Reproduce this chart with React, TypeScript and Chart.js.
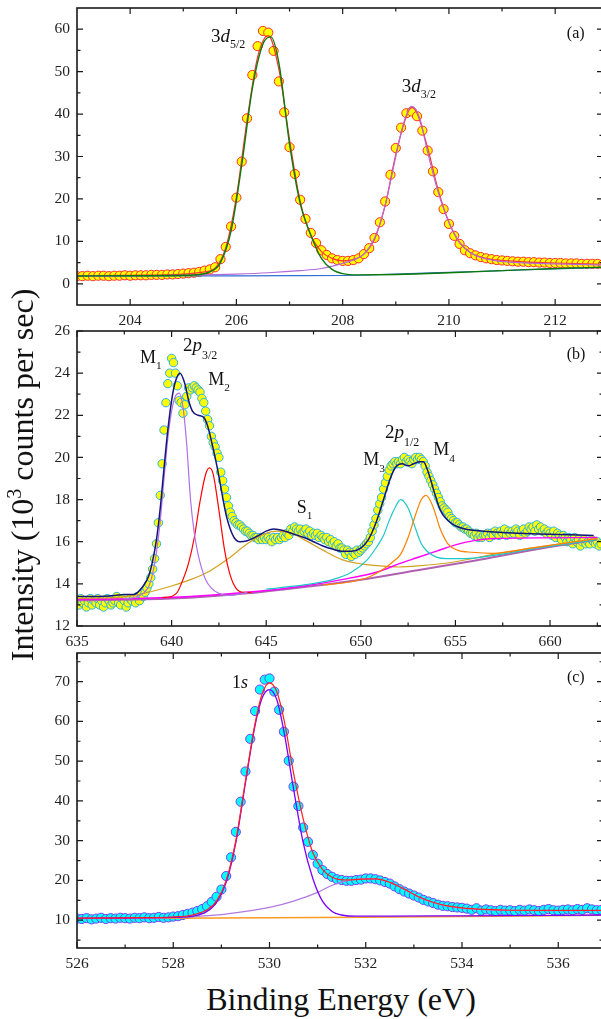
import React, { useEffect, useRef } from "react";
import { Chart, registerables } from "chart.js";
Chart.register(...registerables);

const FONT = '"Liberation Serif", "Times New Roman", Times, serif';
Chart.defaults.font.family = FONT;

// ---------- Panel (a) : 3d ----------
const aStart = 203.0;
const aStep = 0.1;
const aData = [
  1.8, 1.8, 1.9, 1.8, 1.9, 1.9, 1.8, 1.9, 1.9, 2.0,
  1.9, 2.0, 2.0, 2.0, 2.1, 2.1, 2.1, 2.2, 2.2, 2.3,
  2.4, 2.5, 2.6, 2.8, 3.1, 3.4, 3.9, 5.8, 8.7, 13.5,
  20.3, 28.8, 39.0, 49.2, 56.0, 59.6, 59.2, 54.9, 47.7, 40.4,
  32.2, 25.9, 19.8, 15.3, 12.0, 9.6, 7.9, 6.8, 6.0, 5.6,
  5.4, 5.4, 5.6, 6.0, 7.0, 8.4, 10.8, 14.5, 19.4, 25.7,
  32.0, 36.8, 40.2, 40.6, 39.5, 36.1, 31.4, 26.5, 21.6, 17.6,
  14.1, 11.3, 9.4, 7.9, 7.2, 6.7, 6.3, 6.0, 5.8, 5.6,
  5.5, 5.4, 5.3, 5.2, 5.2, 5.1, 5.1, 5.0, 5.0, 4.9,
  4.9, 4.9, 4.8, 4.8, 4.8, 4.7, 4.7, 4.7, 4.7, 4.6,
];
const aBlueX = [203, 205, 207, 208, 209, 210, 211, 212, 212.9];
const aBlueY = [1.8, 1.85, 1.9, 1.95, 2.3, 2.7, 3.1, 3.5, 3.85];
const aEnvX = [203, 204, 205, 205.4, 205.6, 205.8, 206.0, 206.2, 206.4, 206.6, 206.8, 207.0, 207.2, 207.4, 207.6, 207.8, 208.0, 208.2, 208.4, 208.6, 208.8, 209.0, 209.2, 209.3, 209.4, 209.6, 209.8, 210.0, 210.2, 210.4, 210.7, 211, 211.5, 212, 212.9];
const aEnvY = [1.9, 2.0, 2.3, 2.8, 3.7, 8.5, 20.5, 38.5, 53.5, 58.5, 50.5, 34.0, 19.5, 11.5, 7.6, 6.0, 5.4, 5.7, 7.0, 10.5, 18.5, 30.5, 39.5, 41.5, 40.2, 32.0, 22.0, 14.5, 9.7, 7.4, 6.0, 5.5, 5.1, 4.9, 4.6];
const aGreenX = [203, 204, 205, 205.3, 205.5, 205.7, 205.9, 206.1, 206.3, 206.5, 206.65, 206.8, 207.0, 207.2, 207.4, 207.6, 207.8, 208.0, 208.3, 209, 210, 211, 212, 212.9];
const aGreenY = [1.85, 1.9, 2.0, 2.2, 2.8, 5.0, 12.5, 28.0, 46.0, 56.5, 58.2, 52.0, 33.0, 19.0, 11.5, 6.0, 3.4, 2.4, 2.1, 2.2, 2.6, 3.1, 3.6, 3.9];
const aPurpleX = [203, 205, 206, 206.6, 207.2, 207.6, 208.0, 208.2, 208.4, 208.6, 208.8, 209.0, 209.15, 209.3, 209.45, 209.6, 209.8, 210.0, 210.2, 210.4, 210.6, 210.9, 211.3, 212, 212.9];
const aPurpleY = [1.85, 2.0, 2.3, 2.6, 3.1, 3.6, 4.8, 5.6, 7.0, 10.8, 18.5, 30.0, 38.0, 41.8, 39.0, 31.0, 21.5, 14.5, 9.8, 7.4, 6.2, 5.4, 5.0, 4.7, 4.4];
const aXLabels = [204, 206, 208, 210, 212];
const aXMinor = [205, 207, 209, 211];
const aYLabels = [0, 10, 20, 30, 40, 50, 60];
const aYMinor = [5, 15, 25, 35, 45, 55];

// ---------- Panel (b) : 2p ----------
const bStart = 635.0;
const bStep = 0.1;
const bData = [
  13.2, 13.0, 13.3, 13.1, 13.2, 12.9, 13.1, 13.3, 13.0, 13.2,
  13.1, 13.3, 13.0, 13.2, 12.9, 13.1, 13.3, 13.2, 13.0, 13.1,
  13.2, 13.4, 13.1, 13.0, 13.3, 13.2, 12.9, 13.1, 13.3, 13.2,
  13.3, 13.1, 13.4, 13.2, 13.5, 13.4, 13.6, 13.8, 14.0, 14.3,
  14.7, 15.2, 15.9, 16.9, 18.2, 19.7, 21.3, 22.6, 23.5, 24.0,
  24.7, 24.5, 24.0, 23.4, 22.7, 22.6, 22.1, 22.5, 22.9, 23.3,
  23.2, 23.3, 23.4, 23.3, 23.2, 23.1, 22.8, 22.6, 22.2, 21.8,
  21.5, 21.0, 20.7, 20.5, 20.2, 20.0, 19.3, 18.9, 18.5, 18.1,
  17.7, 17.4, 17.2, 17.0, 16.9, 16.8, 16.8, 16.7, 16.6, 16.5,
  16.5, 16.4, 16.3, 16.3, 16.2, 16.2, 16.1, 16.2, 16.1, 16.2,
  16.1, 16.2, 16.1, 16.0, 16.2, 16.1, 16.2, 16.1, 16.2, 16.3,
  16.2, 16.4, 16.3, 16.6, 16.5, 16.7, 16.6, 16.5, 16.6, 16.4,
  16.5, 16.6, 16.4, 16.5, 16.3, 16.4, 16.3, 16.4, 16.2, 16.3,
  16.2, 16.1, 16.2, 16.0, 16.1, 15.9, 16.0, 15.8, 15.9, 15.7,
  15.7, 15.6, 15.4, 15.6, 15.5, 15.3, 15.5, 15.4, 15.6, 15.5,
  15.6, 15.7, 15.8, 15.9, 16.0, 16.2, 16.5, 16.8, 17.1, 17.5,
  17.8, 18.1, 18.5, 18.8, 19.1, 19.4, 19.6, 19.7, 19.8, 19.7,
  19.8, 19.7, 19.9, 20.0, 19.8, 19.9, 19.8, 19.7, 19.9, 20.0,
  19.9, 20.0, 19.9, 19.8, 19.6, 19.3, 19.1, 18.9, 18.7, 18.5,
  18.3, 18.1, 17.9, 17.7, 17.6, 17.5, 17.4, 17.2, 17.1, 17.0,
  16.9, 16.9, 16.8, 16.7, 16.7, 16.6, 16.6, 16.5, 16.4, 16.4,
  16.3, 16.4, 16.2, 16.3, 16.2, 16.3, 16.3, 16.4, 16.2, 16.4,
  16.3, 16.5, 16.4, 16.3, 16.5, 16.4, 16.6, 16.3, 16.5, 16.4,
  16.5, 16.4, 16.6, 16.5, 16.3, 16.5, 16.6, 16.4, 16.5, 16.7,
  16.6, 16.7, 16.5, 16.8, 16.6, 16.7, 16.5, 16.6, 16.4, 16.5,
  16.4, 16.3, 16.5, 16.2, 16.4, 16.3, 16.1, 16.3, 16.2, 16.0,
  16.2, 16.1, 15.9, 16.2, 16.0, 16.1, 15.8, 16.0, 16.1, 15.9,
  16.0, 15.9, 16.1, 16.0, 15.9, 16.0, 15.8, 15.9,
];
const bNavyX = [635, 636, 637, 637.5, 638, 638.5, 638.8, 639.0, 639.2, 639.4, 639.6, 639.8, 640.0, 640.2, 640.45, 640.7, 640.9, 641.1, 641.4, 641.7, 641.9, 642.1, 642.3, 642.5, 642.7, 642.9, 643.1, 643.3, 643.6, 644.0, 644.5, 645.0, 645.4, 646.0, 646.5, 647.0, 647.5, 648.0, 648.5, 649.0, 649.5, 650.0, 650.4, 650.8, 651.2, 651.6, 651.9, 652.2, 652.5, 652.8, 653.1, 653.3, 653.6, 653.9, 654.2, 654.5, 654.9, 655.5, 656.5, 658.4, 660, 662.3];
const bNavyY = [13.4, 13.4, 13.45, 13.5, 13.5, 13.9, 14.4, 15.1, 16.1, 17.6, 19.5, 21.3, 22.7, 23.6, 24.0, 23.5, 22.7, 22.2, 22.0, 21.9, 21.5, 20.8, 20.0, 19.1, 18.1, 17.2, 16.6, 16.2, 16.0, 16.05, 16.25, 16.5, 16.6, 16.5, 16.35, 16.2, 16.0, 15.8, 15.65, 15.55, 15.55, 15.7, 16.1, 16.9, 18.0, 19.1, 19.6, 19.7, 19.6, 19.7, 19.8, 19.8, 19.2, 18.3, 17.5, 17.1, 16.8, 16.6, 16.5, 16.4, 16.35, 16.3];
const bMagX = [635, 638, 641, 644, 647, 649, 651, 652, 653, 654, 655, 656, 657, 662.5];
const bMagY = [13.25, 13.3, 13.4, 13.6, 13.9, 14.2, 14.6, 14.95, 15.25, 15.55, 15.85, 16.05, 16.15, 16.2];
const bLinX = [635, 640, 644, 647, 650, 653, 656, 659, 662.5];
const bLinY = [13.22, 13.3, 13.55, 13.85, 14.2, 14.65, 15.1, 15.6, 16.1];
const bGoldX = [635, 637, 638, 639, 640, 641, 642, 643, 644, 645, 645.6, 646.3, 647, 648, 649, 650, 651, 652, 653, 655, 657, 659, 662.5];
const bGoldY = [13.3, 13.35, 13.45, 13.65, 13.9, 14.2, 14.6, 15.2, 15.9, 16.4, 16.5, 16.4, 16.1, 15.6, 15.15, 14.95, 14.85, 14.8, 14.85, 15.05, 15.4, 15.7, 16.15];
const bM1X = [637.5, 638, 638.5, 638.8, 639.0, 639.2, 639.4, 639.6, 639.8, 640.0, 640.2, 640.4, 640.6, 640.8, 641.0, 641.2, 641.4, 641.6, 641.8, 642.1, 642.5, 643, 644];
const bM1Y = [13.3, 13.35, 13.55, 13.9, 14.5, 15.5, 17.0, 19.0, 20.9, 22.2, 22.9, 23.05, 22.4, 20.6, 18.0, 16.4, 15.4, 14.7, 14.2, 13.8, 13.55, 13.45, 13.6];
const bM2X = [639.5, 640.0, 640.3, 640.6, 640.9, 641.2, 641.5, 641.8, 642.0, 642.2, 642.5, 642.8, 643.1, 643.4, 643.8, 644.2];
const bM2Y = [13.35, 13.4, 13.6, 14.2, 15.0, 16.2, 17.9, 19.2, 19.5, 19.2, 17.5, 15.6, 14.4, 13.8, 13.6, 13.6];
const bM3X = [645, 647, 648.5, 649.5, 650.3, 650.8, 651.2, 651.5, 651.8, 652.1, 652.5, 652.9, 653.2, 653.5, 654.0, 654.5, 655.5, 657, 659, 662.5];
const bM3Y = [13.75, 13.95, 14.2, 14.55, 15.1, 15.7, 16.3, 17.0, 17.6, 18.0, 17.6, 16.6, 15.9, 15.55, 15.27, 15.2, 15.2, 15.35, 15.65, 16.1];
const bM4X = [648, 649.5, 650.5, 651.2, 651.7, 652.1, 652.5, 652.9, 653.2, 653.45, 653.8, 654.2, 654.6, 655.1, 655.9, 657, 659, 662.5];
const bM4Y = [13.95, 14.1, 14.35, 14.7, 15.05, 15.4, 16.2, 17.3, 18.0, 18.2, 17.7, 16.6, 15.9, 15.6, 15.5, 15.45, 15.7, 16.15];
const bXLabels = [635, 640, 645, 650, 655, 660];
const bXMinor = [637.5, 642.5, 647.5, 652.5, 657.5, 662.5];
const bYLabels = [12, 14, 16, 18, 20, 22, 24, 26];
const bYMinor = [13, 15, 17, 19, 21, 23, 25];

// ---------- Panel (c) : 1s ----------
const cStart = 526.0;
const cStep = 0.1;
const cData = [
  10.4, 10.3, 10.5, 10.2, 10.4, 10.6, 10.3, 10.5, 10.4, 10.6,
  10.5, 10.4, 10.6, 10.5, 10.7, 10.5, 10.6, 10.8, 10.6, 10.7,
  10.9, 11.0, 11.3, 11.6, 11.9, 12.3, 12.8, 13.5, 14.6, 15.9,
  17.7, 21.1, 25.8, 32.2, 39.8, 47.4, 55.6, 62.6, 68.0, 70.5,
  70.8, 67.5, 62.9, 57.4, 50.1, 43.6, 38.7, 33.3, 29.7, 26.4,
  24.2, 22.6, 21.6, 20.9, 20.3, 20.1, 19.9, 19.9, 20.1, 20.2,
  20.5, 20.5, 20.3, 20.0, 19.6, 19.2, 18.5, 17.8, 17.2, 16.7,
  16.2, 15.7, 15.1, 14.7, 14.3, 13.9, 13.6, 13.5, 13.3, 13.2,
  13.1, 12.9, 12.6, 13.0, 12.4, 12.7, 12.5, 12.3, 12.6, 12.4,
  12.5, 12.3, 12.6, 12.4, 12.7, 12.5, 12.3, 12.6, 12.8, 12.5,
  12.4, 12.6, 12.7, 12.5, 12.8, 12.6, 13.0, 12.7, 12.5, 12.6,
];
const cOrangeX = [526, 529, 532, 536.93];
const cOrangeY = [10.45, 10.55, 10.75, 11.2];
const cVioX = [526, 527, 528, 528.4, 528.7, 528.9, 529.1, 529.3, 529.5, 529.7, 529.85, 530.0, 530.15, 530.3, 530.5, 530.7, 530.9, 531.1, 531.3, 531.5, 531.8, 532.5, 534, 536.93];
const cVioY = [10.5, 10.55, 10.7, 11.0, 12.2, 14.5, 19.5, 29.5, 44.5, 59.0, 66.0, 68.0, 65.5, 57.5, 43.0, 29.5, 20.5, 14.8, 12.2, 11.3, 11.0, 11.0, 11.1, 11.3];
const cLavX = [526, 527, 528, 529, 529.5, 530, 530.5, 531, 531.3, 531.6, 531.9, 532.2, 532.5, 532.8, 533.1, 533.4, 533.7, 534, 534.5, 535, 536, 536.93];
const cLavY = [10.4, 10.5, 10.7, 11.4, 12.2, 13.2, 14.8, 17.0, 18.8, 19.9, 20.4, 20.4, 19.5, 17.8, 15.8, 14.4, 13.5, 13.0, 12.6, 12.45, 12.4, 12.4];
const cRedX = [526, 527, 528, 528.4, 528.7, 528.9, 529.1, 529.3, 529.5, 529.7, 529.85, 530.0, 530.15, 530.3, 530.5, 530.7, 530.9, 531.1, 531.3, 531.6, 531.9, 532.2, 532.5, 532.8, 533.1, 533.4, 533.7, 534, 534.5, 535, 536, 536.93];
const cRedY = [10.5, 10.6, 10.8, 11.3, 12.6, 14.8, 20.0, 30.0, 45.0, 59.5, 67.0, 69.7, 67.5, 60.5, 47.0, 35.5, 27.0, 22.8, 20.8, 20.1, 20.3, 20.4, 19.5, 17.8, 15.9, 14.5, 13.6, 13.1, 12.7, 12.5, 12.45, 12.45];
const cXLabels = [526, 528, 530, 532, 534, 536];
const cXMinor = [527, 529, 531, 533, 535];
const cYLabels = [10, 20, 30, 40, 50, 60, 70];
const cYMinor = [5, 15, 25, 35, 45, 55, 65, 75];

// ---------- helpers ----------
type Part = { t: string; it?: boolean; sub?: boolean; dy?: number };
type Note = { x: number; y: number; size: number; parts: Part[] };

const grid = (start: number, step: number, n: number) =>
  Array.from({ length: n }, (_, i) => Math.round((start + i * step) * 100) / 100);
const pts = (xs: number[], ys: number[]) => xs.map((x, i) => ({ x, y: ys[i] }));

function lineDs(xs: number[], ys: number[], color: string, width: number, order: number) {
  return {
    data: pts(xs, ys),
    borderColor: color,
    borderWidth: width,
    pointRadius: 0,
    fill: false,
    cubicInterpolationMode: "monotone",
    order,
  };
}
function scatterDs(xs: number[], ys: number[], fill: string, border: string, r: number) {
  return {
    data: pts(xs, ys),
    showLine: false,
    pointRadius: r,
    pointBackgroundColor: fill,
    pointBorderColor: border,
    pointBorderWidth: 1,
    order: 50,
  };
}

type PanelCfg = {
  xMin: number; xMax: number; yMin: number; yMax: number;
  xLabels: number[]; xMinor: number[]; yLabels: number[]; yMinor: number[];
  datasets: any[]; notes: Note[]; padTop: number; axisH: number;
};

function buildConfig(p: PanelCfg): any {
  const frame = {
    id: "frame",
    afterDraw(chart: any) {
      const { ctx, chartArea } = chart;
      const { left, right, top, bottom } = chartArea;
      const xs = chart.scales.x, ys = chart.scales.y;
      ctx.save();
      ctx.strokeStyle = "#1a1a1a";
      ctx.lineWidth = 1.2;
      ctx.beginPath();
      const xt = (v: number, L: number) => {
        const px = xs.getPixelForValue(v);
        ctx.moveTo(px, bottom); ctx.lineTo(px, bottom - L);
        ctx.moveTo(px, top); ctx.lineTo(px, top + L);
      };
      const yt = (v: number, L: number) => {
        const py = ys.getPixelForValue(v);
        ctx.moveTo(left, py); ctx.lineTo(left + L, py);
        ctx.moveTo(right, py); ctx.lineTo(right - L, py);
      };
      p.xLabels.forEach((v) => xt(v, 6));
      p.xMinor.forEach((v) => xt(v, 3.5));
      p.yLabels.forEach((v) => yt(v, 6));
      p.yMinor.forEach((v) => yt(v, 3.5));
      ctx.stroke();
      ctx.lineWidth = 1.6;
      ctx.strokeRect(left, top, right - left, bottom - top);
      // notes
      ctx.fillStyle = "#111";
      ctx.textBaseline = "alphabetic";
      ctx.textAlign = "left";
      for (const n of p.notes) {
        let x = xs.getPixelForValue(n.x);
        const y = ys.getPixelForValue(n.y);
        for (const part of n.parts) {
          const size = part.sub ? n.size * 0.63 : n.size;
          ctx.font = `${part.it ? "italic " : ""}${size}px ${FONT}`;
          const dy = part.sub ? (part.dy ?? n.size * 0.32) : 0;
          ctx.fillText(part.t, x, y + dy);
          x += ctx.measureText(part.t).width;
        }
      }
      ctx.restore();
    },
  };
  const tickFont = { family: FONT, size: 15.5 };
  const zeroPad = (s: any) => { s.paddingTop = 0; s.paddingBottom = 0; s.paddingLeft = 0; s.paddingRight = 0; };
  return {
    type: "line",
    data: { datasets: p.datasets },
    plugins: [frame],
    options: {
      animation: false,
      responsive: true,
      maintainAspectRatio: false,
      events: [],
      layout: { padding: { top: p.padTop, right: 7, left: 0, bottom: 0 }, autoPadding: false },
      plugins: { legend: { display: false }, tooltip: { enabled: false } },
      scales: {
        x: {
          type: "linear", min: p.xMin, max: p.xMax,
          grid: { display: false, drawTicks: false },
          border: { display: false },
          ticks: { padding: 7, font: tickFont, color: "#222", autoSkip: false, maxRotation: 0, callback: (v: any) => String(v) },
          afterBuildTicks: (s: any) => { s.ticks = p.xLabels.map((v) => ({ value: v })); },
          afterFit: (s: any) => { s.height = p.axisH; zeroPad(s); },
        },
        y: {
          type: "linear", min: p.yMin, max: p.yMax,
          grid: { display: false, drawTicks: false },
          border: { display: false },
          ticks: { padding: 7, font: tickFont, color: "#222", autoSkip: false, callback: (v: any) => String(v) },
          afterBuildTicks: (s: any) => { s.ticks = p.yLabels.map((v) => ({ value: v })); },
          afterFit: (s: any) => { s.width = 77; zeroPad(s); },
        },
      },
    },
  };
}

const panelA: PanelCfg = {
  xMin: 203, xMax: 212.9, yMin: -5, yMax: 65,
  xLabels: aXLabels, xMinor: aXMinor, yLabels: aYLabels, yMinor: aYMinor,
  padTop: 8, axisH: 27,
  datasets: [
    scatterDs(grid(aStart, aStep, aData.length), aData, "#ffff00", "#ff2a2a", 4.6),
    lineDs(aBlueX, aBlueY, "#2f6fd6", 1.2, 5),
    lineDs(aEnvX, aEnvY, "#ff3333", 1.2, 4),
    lineDs(aPurpleX, aPurpleY, "#b36ad9", 1.2, 3),
    lineDs(aGreenX, aGreenY, "#0b7a0b", 1.4, 2),
  ],
  notes: [
    { x: 205.52, y: 57.0, size: 19, parts: [{ t: "3" }, { t: "d", it: true }, { t: "5/2", sub: true }] },
    { x: 209.11, y: 45.2, size: 19, parts: [{ t: "3" }, { t: "d", it: true }, { t: "3/2", sub: true }] },
    { x: 212.22, y: 57.9, size: 16, parts: [{ t: "(a)" }] },
  ],
};

const panelB: PanelCfg = {
  xMin: 635, xMax: 662.8, yMin: 12, yMax: 26,
  xLabels: bXLabels, xMinor: bXMinor, yLabels: bYLabels, yMinor: bYMinor,
  padTop: 10, axisH: 25,
  datasets: [
    scatterDs(grid(bStart, bStep, bData.length), bData, "#ffff00", "#2ab0e8", 4.2),
    lineDs(bLinX, bLinY, "#b060b0", 2, 12),
    lineDs(bGoldX, bGoldY, "#d4a020", 1.2, 11),
    lineDs(bMagX, bMagY, "#ff00ff", 1.4, 10),
    lineDs(bM3X, bM3Y, "#1cc8c8", 1.2, 9),
    lineDs(bM4X, bM4Y, "#ff8000", 1.2, 8),
    lineDs(bM2X, bM2Y, "#ff0000", 1.2, 7),
    lineDs(bM1X, bM1Y, "#b070e8", 1.2, 6),
    lineDs(bNavyX, bNavyY, "#14147a", 1.5, 1),
  ],
  notes: [
    { x: 638.33, y: 24.47, size: 18, parts: [{ t: "M" }, { t: "1", sub: true, dy: 5.7 }] },
    { x: 640.6, y: 25.05, size: 19, parts: [{ t: "2" }, { t: "p", it: true }, { t: "3/2", sub: true, dy: 7.5 }] },
    { x: 641.94, y: 23.44, size: 18, parts: [{ t: "M" }, { t: "2", sub: true, dy: 6.5 }] },
    { x: 646.61, y: 17.35, size: 18, parts: [{ t: "S" }, { t: "1", sub: true, dy: 5.7 }] },
    { x: 650.13, y: 19.64, size: 18, parts: [{ t: "M" }, { t: "3", sub: true, dy: 6.5 }] },
    { x: 651.28, y: 20.91, size: 19, parts: [{ t: "2" }, { t: "p", it: true }, { t: "1/2", sub: true, dy: 7.5 }] },
    { x: 653.83, y: 20.11, size: 18, parts: [{ t: "M" }, { t: "4", sub: true, dy: 6.5 }] },
    { x: 660.88, y: 24.67, size: 16, parts: [{ t: "(b)" }] },
  ],
};

const panelC: PanelCfg = {
  xMin: 526, xMax: 536.93, yMin: 3, yMax: 77.2,
  xLabels: cXLabels, xMinor: cXMinor, yLabels: cYLabels, yMinor: cYMinor,
  padTop: 10, axisH: 25,
  datasets: [
    scatterDs(grid(cStart, cStep, cData.length), cData, "#00ffff", "#7b3cf0", 4.6),
    lineDs(cOrangeX, cOrangeY, "#ff9a20", 1.4, 5),
    lineDs(cLavX, cLavY, "#b07ae0", 1.2, 4),
    lineDs(cVioX, cVioY, "#7a00ff", 1.3, 3),
    lineDs(cRedX, cRedY, "#ff2020", 1.2, 2),
  ],
  notes: [
    { x: 529.22, y: 68.33, size: 18, parts: [{ t: "1" }, { t: "s", it: true }] },
    { x: 536.18, y: 69.92, size: 16, parts: [{ t: "(c)" }] },
  ],
};

function Panel({ cfg, top, height }: { cfg: PanelCfg; top: number; height: number }) {
  const ref = useRef<HTMLCanvasElement>(null);
  useEffect(() => {
    const chart = new Chart(ref.current as HTMLCanvasElement, buildConfig(cfg));
    return () => chart.destroy();
  }, [cfg]);
  return (
    <div style={{ position: "absolute", left: 0, top, width: 610, height }}>
      <canvas ref={ref} />
    </div>
  );
}

export default function App() {
  return (
    <div style={{ position: "fixed", left: 0, top: 0, width: 601, height: 1019, overflow: "hidden", background: "#fff", fontFamily: FONT }}>
      <Panel cfg={panelA} top={0} height={332} />
      <Panel cfg={panelB} top={321} height={330} />
      <Panel cfg={panelC} top={643} height={330} />
      <div
        style={{
          position: "absolute", left: 22 - 210, top: 475 - 18, width: 420, height: 36,
          lineHeight: "36px", fontSize: 32, textAlign: "center", color: "#111",
          transform: "rotate(-90deg)", whiteSpace: "nowrap",
        }}
      >
        Intensity (10<sup style={{ fontSize: 20, verticalAlign: "super", lineHeight: 0 }}>3</sup> counts per sec)
      </div>
      <div
        style={{
          position: "absolute", left: 341 - 200, top: 981, width: 400, height: 36,
          lineHeight: "36px", fontSize: 32, textAlign: "center", color: "#111", whiteSpace: "nowrap",
        }}
      >
        Binding Energy (eV)
      </div>
    </div>
  );
}
